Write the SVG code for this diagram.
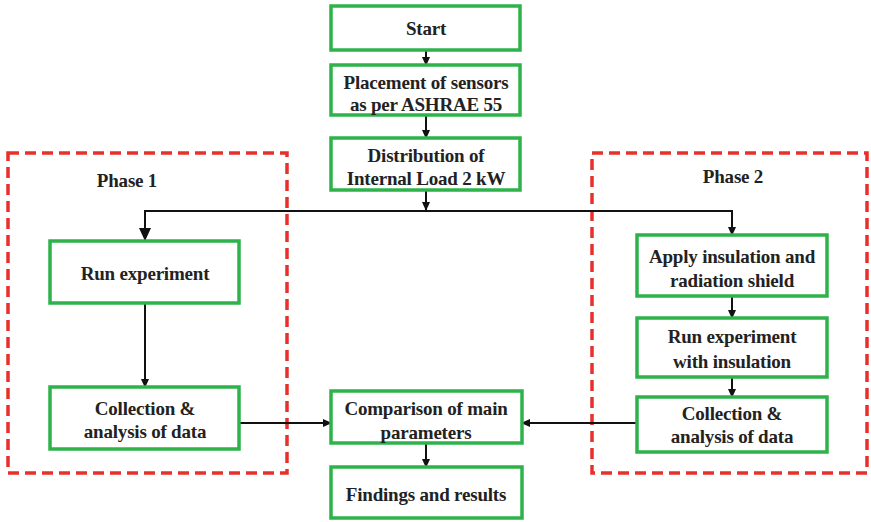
<svg xmlns="http://www.w3.org/2000/svg" width="871" height="522" viewBox="0 0 871 522">
<defs>
<style>
.box{fill:#fff;stroke:#2db34a;stroke-width:3.5}
.phase{fill:none;stroke:#e8302a;stroke-width:3.5;stroke-dasharray:11 6}
.t{font-family:"Liberation Serif","Times New Roman",serif;font-weight:bold;font-size:19px;fill:#222;text-anchor:middle;letter-spacing:-0.2px}
.c{fill:none;stroke:#111;stroke-width:2}
</style>
<marker id="ah" markerWidth="10" markerHeight="10" refX="8" refY="5" orient="auto" markerUnits="userSpaceOnUse">
<path d="M0,1 L9,5 L0,9 Z" fill="#111"/>
</marker>
<marker id="ahL" markerWidth="14" markerHeight="14" refX="12" refY="7" orient="auto" markerUnits="userSpaceOnUse">
<path d="M0,1 L13,7 L0,13 Z" fill="#111"/>
</marker>
</defs>
<rect width="871" height="522" fill="#fff"/>
<g id="phase1"><rect class="phase" x="8" y="153" width="279" height="320"/><text class="t" x="127" y="187">Phase 1</text></g>
<g id="phase2"><rect class="phase" x="592" y="153" width="275" height="320"/><text class="t" x="733" y="183">Phase 2</text></g>
<g id="connectors">
<line class="c" x1="426" y1="50" x2="426" y2="65" marker-end="url(#ah)"/>
<line class="c" x1="426" y1="115" x2="426" y2="138" marker-end="url(#ah)"/>
<line class="c" x1="426" y1="190" x2="426" y2="210" marker-end="url(#ah)"/>
<polyline class="c" points="145,240 145,211 732,211 732,235"/>
<line class="c" x1="145" y1="215" x2="145" y2="240" marker-end="url(#ahL)"/>
<line class="c" x1="732" y1="215" x2="732" y2="235" marker-end="url(#ah)"/>
<line class="c" x1="145" y1="303" x2="145" y2="387" marker-end="url(#ah)"/>
<line class="c" x1="732" y1="296" x2="732" y2="318" marker-end="url(#ah)"/>
<line class="c" x1="732" y1="377" x2="732" y2="397" marker-end="url(#ah)"/>
<line class="c" x1="239" y1="423" x2="331" y2="423" marker-end="url(#ah)"/>
<line class="c" x1="637" y1="423" x2="522" y2="423" marker-end="url(#ah)"/>
<line class="c" x1="426" y1="443" x2="426" y2="467" marker-end="url(#ah)"/>
</g>
<g id="start"><rect class="box" x="331" y="6" width="189" height="44"/><text class="t" x="426" y="35">Start</text></g>
<g id="placement"><rect class="box" x="331" y="65" width="189" height="50"/><text class="t" x="426" y="89">Placement of sensors</text><text class="t" x="426" y="111">as per ASHRAE 55</text></g>
<g id="distribution"><rect class="box" x="331" y="138" width="189" height="52"/><text class="t" x="426" y="162">Distribution of</text><text class="t" x="426" y="185">Internal Load 2 kW</text></g>
<g id="run1"><rect class="box" x="50" y="241" width="189" height="62"/><text class="t" x="145" y="280">Run experiment</text></g>
<g id="collect1"><rect class="box" x="50" y="387" width="189" height="62"/><text class="t" x="145" y="415">Collection &amp;</text><text class="t" x="145" y="438">analysis of data</text></g>
<g id="apply"><rect class="box" x="637" y="235" width="190" height="61"/><text class="t" x="732" y="263">Apply insulation and</text><text class="t" x="732" y="287">radiation shield</text></g>
<g id="run2"><rect class="box" x="637" y="318" width="190" height="59"/><text class="t" x="732" y="343">Run experiment</text><text class="t" x="732" y="368">with insulation</text></g>
<g id="collect2"><rect class="box" x="637" y="397" width="190" height="55"/><text class="t" x="732" y="420">Collection &amp;</text><text class="t" x="732" y="443">analysis of data</text></g>
<g id="comparison"><rect class="box" x="331" y="391" width="191" height="52"/><text class="t" x="426" y="415">Comparison of main</text><text class="t" x="426" y="439">parameters</text></g>
<g id="findings"><rect class="box" x="331" y="467" width="191" height="51"/><text class="t" x="426" y="501">Findings and results</text></g>
</svg>
